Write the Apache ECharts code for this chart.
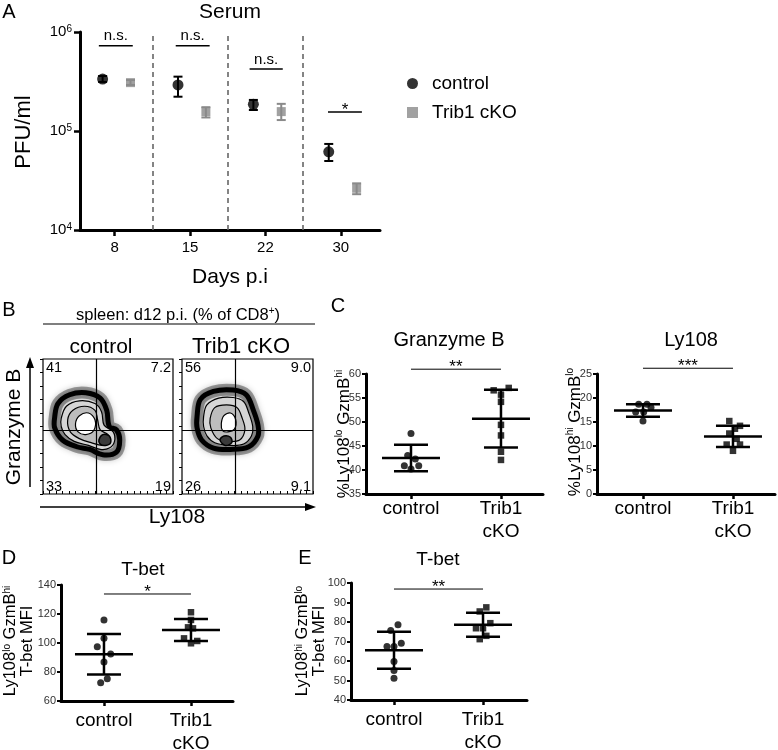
<!DOCTYPE html>
<html><head><meta charset="utf-8">
<script src="https://cdn.jsdelivr.net/npm/echarts@6/dist/echarts.min.js"></script>
<style>html,body{margin:0;padding:0;background:#fff}#c{width:778px;height:750px}</style>
</head><body><div id="c"></div>
<script>
// ---------- Panel A: Serum PFU/ml ----------
const daysA = ['8', '15', '22', '30'];
const ctrlA = [335000, 292000, 186000, 61600];
const ctrlAlo = [313000, 222000, 163000, 49800];
const ctrlAhi = [359000, 354000, 206000, 74000];
const ckoA = [308000, 157000, 157000, 26400];
const ckoAlo = [292000, 137000, 129000, 23000];
const ckoAhi = [327000, 174000, 188000, 29600];
const sigAText = ['n.s.', 'n.s.', 'n.s.', '*'];
const sigAy = [728000, 728000, 423000, 156000];
const sigAx1 = [-0.21, 0.81, 1.79, 2.83];
const sigAx2 = [0.24, 1.26, 2.23, 3.28];
const sepA = [0.5, 1.5, 2.5];
const offCtrlA = -0.16, offCkoA = 0.21;

// ---------- Panel B: flow plots ----------
const quadCtrl = ['41', '7.2', '33', '19'];
const quadCko = ['56', '9.0', '26', '9.1'];
const gateCtrl = [0.41, 0.474];
const gateCko = [0.405, 0.474];
const ringsCtrl = [
  [[0.09,0.57],[0.115,0.67],[0.205,0.735],[0.33,0.75],[0.44,0.71],[0.49,0.62],[0.51,0.50],[0.565,0.475],[0.59,0.40],[0.565,0.31],[0.46,0.29],[0.36,0.33],[0.26,0.35],[0.15,0.40],[0.09,0.49]],
  [[0.14,0.56],[0.18,0.65],[0.28,0.69],[0.40,0.67],[0.45,0.61],[0.47,0.51],[0.54,0.46],[0.55,0.39],[0.51,0.34],[0.44,0.33],[0.35,0.36],[0.24,0.39],[0.17,0.44],[0.14,0.50]],
  [[0.19,0.55],[0.23,0.62],[0.32,0.65],[0.40,0.62],[0.42,0.55],[0.44,0.475],[0.50,0.44],[0.51,0.39],[0.46,0.36],[0.37,0.38],[0.28,0.41],[0.21,0.46]],
  [[0.25,0.52],[0.28,0.58],[0.35,0.60],[0.40,0.55],[0.39,0.47],[0.33,0.44],[0.27,0.46]],
  [[0.43,0.40],[0.46,0.44],[0.51,0.43],[0.52,0.38],[0.48,0.36],[0.44,0.37]]
];
const ringsCko = [
  [[0.115,0.575],[0.14,0.70],[0.24,0.76],[0.39,0.77],[0.49,0.735],[0.545,0.62],[0.58,0.51],[0.58,0.43],[0.51,0.35],[0.37,0.33],[0.24,0.34],[0.15,0.40],[0.115,0.49]],
  [[0.165,0.575],[0.19,0.66],[0.28,0.71],[0.39,0.715],[0.47,0.685],[0.51,0.60],[0.54,0.50],[0.53,0.43],[0.47,0.37],[0.37,0.36],[0.25,0.38],[0.19,0.43],[0.165,0.50]],
  [[0.215,0.56],[0.25,0.64],[0.34,0.66],[0.42,0.64],[0.46,0.56],[0.48,0.475],[0.44,0.40],[0.35,0.39],[0.27,0.41],[0.22,0.49]],
  [[0.30,0.52],[0.32,0.58],[0.37,0.60],[0.41,0.55],[0.40,0.48],[0.35,0.46],[0.31,0.47]],
  [[0.29,0.40],[0.32,0.43],[0.37,0.42],[0.38,0.38],[0.33,0.36]]
];

// ---------- Panel C: Granzyme B / Ly108 ----------
const groupsCDE = ['control', 'Trib1\ncKO'];
const gzmCtrl = [47.6, 43.0, 42.3, 40.9, 40.9, 40.2];
const gzmCtrlJit = [0, -0.037, 0.048, -0.074, 0.086, 0];
const gzmCko = [56.6, 57.1, 55.7, 54.2, 49.4, 47.2, 43.8, 42.1];
const gzmCkoJit = [-0.081, 0.086, 0, 0, 0, 0, 0, 0];
const gzmMean = [42.5, 50.7];
const gzmSd = [2.75, 6.0];
const gzmSig = 61.0;

const lyCtrl = [18.7, 18.7, 18.0, 17.1, 17.1, 15.2];
const lyCtrlJit = [-0.048, 0.044, 0.089, -0.081, 0.008, 0];
const lyCko = [15.2, 14.2, 13.6, 12.6, 11.5, 10.3, 10.3, 9.0];
const lyCkoJit = [-0.041, 0.078, 0.022, -0.041, 0.041, -0.07, 0.078, 0];
const lyMean = [17.4, 12.0];
const lySd = [1.32, 2.2];
const lySig = 26.2;

// ---------- Panel D: T-bet (Ly108lo GzmBhi) ----------
const tbDCtrl = [115.9, 103.2, 97.5, 92.4, 86.9, 75.4, 72.6];
const tbDCtrlJit = [0, 0, -0.077, 0.077, 0, 0.038, -0.038];
const tbDCko = [121.2, 115.9, 110.8, 110.1, 103.2, 99.8, 101.4];
const tbDCkoJit = [0, 0, -0.034, 0.023, -0.08, 0, 0.072];
const tbDMean = [92.2, 109.0];
const tbDSd = [14.0, 7.6];
const tbDSig = 133.8;

// ---------- Panel E: T-bet (Ly108hi GzmBlo) ----------
const tbECtrl = [78.6, 75.6, 67.4, 67.4, 69.1, 59.7, 55.1, 51.1];
const tbECtrlJit = [0.045, -0.037, -0.079, 0, 0.082, 0, 0, 0];
const tbECko = [87.5, 85.4, 79.4, 76.8, 76.8, 72.9, 71.2];
const tbECkoJit = [0.037, -0.037, 0.082, -0.079, 0, 0.037, -0.037];
const tbEMean = [65.5, 78.6];
const tbESd = [9.5, 6.1];
const tbESig = 96.9;

const FF = '"Liberation Sans", Arial, Helvetica, sans-serif';
const GRAY = '#8a8a8a';

function errRender(color) {
  return function (params, api) {
    const x = api.value(0), lo = api.value(1), hi = api.value(2);
    const a = api.coord([x, hi]), b = api.coord([x, lo]);
    const st = { stroke: color, lineWidth: 2 };
    return { type: 'group', children: [
      { type: 'line', shape: { x1: a[0], y1: a[1], x2: b[0], y2: b[1] }, style: st },
      { type: 'line', shape: { x1: a[0] - 4.5, y1: a[1], x2: a[0] + 4.5, y2: a[1] }, style: st },
      { type: 'line', shape: { x1: b[0] - 4.5, y1: b[1], x2: b[0] + 4.5, y2: b[1] }, style: st }
    ]};
  };
}
function meanSdRender(params, api) {
  const x = api.value(0), m = api.value(1), s = api.value(2);
  const pm = api.coord([x, m]), ph = api.coord([x, m + s]), pl = api.coord([x, m - s]);
  const st = { stroke: '#000', lineWidth: 2.5 };
  return { type: 'group', children: [
    { type: 'line', shape: { x1: ph[0], y1: ph[1], x2: pl[0], y2: pl[1] }, style: st },
    { type: 'line', shape: { x1: pm[0] - 29, y1: pm[1], x2: pm[0] + 29, y2: pm[1] }, style: st },
    { type: 'line', shape: { x1: ph[0] - 17, y1: ph[1], x2: ph[0] + 17, y2: ph[1] }, style: st },
    { type: 'line', shape: { x1: pl[0] - 17, y1: pl[1], x2: pl[0] + 17, y2: pl[1] }, style: st }
  ]};
}
function sigSeries(gi, texts, x1s, x2s, ys, fs, lw) {
  return {
    type: 'custom', xAxisIndex: gi, yAxisIndex: gi, clip: false, silent: true, z: 5,
    data: ys.map((y, i) => [x1s[i], y, x2s[i]]), encode: { x: [0, 2], y: 1 },
    renderItem: function (params, api) {
      const i = params.dataIndex;
      const p1 = api.coord([api.value(0), api.value(1)]), p2 = api.coord([api.value(2), api.value(1)]);
      const star = texts[i].indexOf('*') >= 0;
      return { type: 'group', children: [
        { type: 'line', shape: { x1: p1[0], y1: p1[1], x2: p2[0], y2: p2[1] }, style: { stroke: '#000', lineWidth: lw } },
        { type: 'text', x: (p1[0] + p2[0]) / 2, y: p1[1] + (star ? 7 : -2),
          style: { text: texts[i], fill: '#000', fontSize: star ? fs + 2 : fs, fontFamily: FF, align: 'center', verticalAlign: 'bottom' } }
      ]};
    }
  };
}
function ringSeries(gi, rings) {
  return {
    type: 'custom', xAxisIndex: gi, yAxisIndex: gi, clip: true, silent: true, z: 2,
    data: rings.map(() => [0.5, 0.5]), encode: { x: 0, y: 1 },
    renderItem: function (params, api) {
      const i = params.dataIndex;
      const pts = rings[i].map(p => api.coord(p));
      if (i === 0) {
        return { type: 'group', children: [
          { type: 'polygon', shape: { points: pts, smooth: 0.35 }, style: { fill: '#ececec', stroke: 'rgba(0,0,0,0.35)', lineWidth: 12, shadowBlur: 6, shadowColor: 'rgba(0,0,0,0.5)' } },
          { type: 'polygon', shape: { points: pts, smooth: 0.35 }, style: { fill: 'none', stroke: '#000', lineWidth: 5 } }
        ]};
      }
      const fills = [null, '#d6d6d6', '#bdbdbd', '#ffffff', '#3a3a3a'];
      return { type: 'polygon', shape: { points: pts, smooth: 0.35 },
        style: { fill: fills[i], stroke: '#000', lineWidth: i === 4 ? 1.5 : 1.2 } };
    }
  };
}
function quadSeries(gi, labels) {
  return {
    type: 'custom', xAxisIndex: gi, yAxisIndex: gi, clip: false, silent: true, z: 6,
    data: labels.map(() => [0.5, 0.5]), encode: { x: 0, y: 1 },
    renderItem: function (params, api) {
      const i = params.dataIndex;
      const corners = [[0, 1], [1, 1], [0, 0], [1, 0]];
      const p = api.coord(corners[i]);
      const right = i % 2 === 1, bottom = i >= 2;
      return { type: 'text', x: p[0] + (right ? -2 : 3), y: p[1] + (bottom ? 0 : 1),
        style: { text: labels[i], fill: '#000', fontSize: 14.5, fontFamily: FF,
          align: right ? 'right' : 'left', verticalAlign: bottom ? 'bottom' : 'top' } };
    }
  };
}
function gateSeries(gi, gate) {
  return {
    type: 'line', xAxisIndex: gi, yAxisIndex: gi, data: [], silent: true,
    markLine: { silent: true, symbol: 'none', animation: false, label: { show: false },
      lineStyle: { color: '#000', width: 1.2, type: 'solid' },
      data: [{ xAxis: gate[0] }, { yAxis: gate[1] }] }
  };
}
function dotSeries(gi, name, vals, jit, center, symbol, size) {
  return { type: 'scatter', name: name, xAxisIndex: gi, yAxisIndex: gi, symbol: symbol, symbolSize: size,
    itemStyle: { color: '#000' }, z: 4, clip: false,
    data: vals.map((v, i) => [center + jit[i], v]) };
}
function meanSeries(gi, means, sds) {
  return { type: 'custom', xAxisIndex: gi, yAxisIndex: gi, clip: false, silent: true, z: 3,
    data: means.map((m, i) => [i + 1, m, sds[i]]), encode: { x: 0, y: 1 }, renderItem: meanSdRender };
}
function catXAxis(gi, min, max, margin) {
  return { gridIndex: gi, type: 'value', min: min, max: max,
    axisLine: { show: true, onZero: false, lineStyle: { color: '#000', width: 3 } },
    axisTick: { show: true, customValues: [1, 2], length: 5, lineStyle: { color: '#000', width: 2.5 } },
    axisLabel: { customValues: [1, 2], formatter: v => groupsCDE[Math.round(v) - 1], fontSize: 19,
      lineHeight: 23, color: '#000', margin: margin, fontFamily: FF },
    splitLine: { show: false } };
}
function numYAxis(gi, min, max, interval) {
  return { gridIndex: gi, type: 'value', min: min, max: max, interval: interval,
    axisLine: { show: true, onZero: false, lineStyle: { color: '#000', width: 3 } },
    axisTick: { show: true, length: 4, lineStyle: { color: '#000', width: 2 } },
    axisLabel: { fontSize: 11, color: '#333', margin: 5, fontFamily: FF },
    splitLine: { show: false } };
}
function flowXAxis(gi) {
  return { gridIndex: gi, type: 'value', min: 0, max: 1, interval: 0.05,
    axisLine: { show: false, onZero: false }, axisLabel: { show: false }, splitLine: { show: false },
    axisTick: { show: true, inside: true, length: 3, lineStyle: { color: '#000', width: 1 } } };
}
function flowYAxis(gi) {
  return { gridIndex: gi, type: 'value', min: 0, max: 1, interval: 0.1,
    axisLine: { show: false, onZero: false }, axisLabel: { show: false }, splitLine: { show: false },
    axisTick: { show: true, inside: false, length: 3, lineStyle: { color: '#000', width: 1 } } };
}
const gridBase = { containLabel: false, outerBoundsMode: 'none' };

const supRich = { s: { fontSize: 10, fontFamily: FF, verticalAlign: 'top', lineHeight: 12 } };
function txt(x, y, text, size, extra) {
  return Object.assign({ type: 'text', x: x, y: y, silent: true,
    style: { text: text, fill: '#000', fontSize: size, fontFamily: FF, align: 'center', verticalAlign: 'middle' } }, extra || {});
}
function vtxt(x, y, text, size, lh) {
  return { type: 'text', x: x, y: y, rotation: Math.PI / 2, silent: true,
    style: { text: text, fill: '#000', fontSize: size, fontFamily: FF, align: 'center', verticalAlign: 'middle',
      lineHeight: lh || size * 1.2, rich: { s: { fontSize: 10, fontFamily: FF, verticalAlign: 'top', lineHeight: 12 },
        n: { fontSize: size, fontFamily: FF } } } };
}

const option = {
  animation: false,
  backgroundColor: '#fff',
  textStyle: { fontFamily: FF },
  legend: { data: [{ name: 'control', icon: 'circle' }, { name: 'Trib1 cKO', icon: 'rect' }],
    orient: 'vertical', left: 402, top: 69, itemWidth: 11, itemHeight: 11,
    itemGap: 10, selectedMode: false, textStyle: { fontSize: 19, color: '#000', fontFamily: FF, padding: [0, 0, 0, 9] } },
  grid: [
    Object.assign({ left: 80, top: 32, width: 300, height: 198 }, gridBase),
    Object.assign({ left: 43, top: 359, width: 130, height: 135, show: true, borderColor: '#000', borderWidth: 1.2, backgroundColor: 'transparent' }, gridBase),
    Object.assign({ left: 182, top: 359, width: 131, height: 135, show: true, borderColor: '#000', borderWidth: 1.2, backgroundColor: 'transparent' }, gridBase),
    Object.assign({ left: 366, top: 374, width: 177, height: 120 }, gridBase),
    Object.assign({ left: 597, top: 374, width: 178, height: 120 }, gridBase),
    Object.assign({ left: 61, top: 585, width: 172, height: 116 }, gridBase),
    Object.assign({ left: 351, top: 583, width: 176, height: 117 }, gridBase)
  ],
  xAxis: [
    { gridIndex: 0, type: 'value', min: -0.46, max: 3.52,
      axisLine: { show: true, onZero: false, lineStyle: { color: '#000', width: 3 } },
      axisTick: { show: true, customValues: [0, 1, 2, 3], length: 6, lineStyle: { color: '#000', width: 2.5 } },
      axisLabel: { customValues: [0, 1, 2, 3], formatter: v => daysA[Math.round(v)], fontSize: 15, color: '#000', margin: 10, fontFamily: FF },
      splitLine: { show: false } },
    flowXAxis(1), flowXAxis(2),
    catXAxis(3, 0.5, 2.467, 3), catXAxis(4, 0.489, 2.467, 3),
    catXAxis(5, 0.506, 2.483, 8), catXAxis(6, 0.517, 2.494, 8)
  ],
  yAxis: [
    { gridIndex: 0, type: 'log', logBase: 10, min: 10000, max: 1000000,
      axisLine: { show: true, onZero: false, lineStyle: { color: '#000', width: 3 } },
      axisTick: { show: true, length: 6, lineStyle: { color: '#000', width: 2.5 } },
      minorTick: { show: false },
      axisLabel: { margin: 8, formatter: v => '{b|10}{s|' + Math.round(Math.log10(v)) + '}',
        rich: { b: { fontSize: 15, color: '#000', fontFamily: FF }, s: { fontSize: 10, color: '#000', fontFamily: FF, verticalAlign: 'top', lineHeight: 10 } } },
      splitLine: { show: false } },
    flowYAxis(1), flowYAxis(2),
    numYAxis(3, 35, 60, 5), numYAxis(4, 0, 25, 5), numYAxis(5, 60, 140, 20), numYAxis(6, 40, 100, 10)
  ],
  series: [
    // Panel A
    { type: 'custom', name: 'ctrlErr', xAxisIndex: 0, yAxisIndex: 0, silent: true, z: 3,
      data: ctrlA.map((v, i) => [i + offCtrlA, ctrlAlo[i], ctrlAhi[i]]), encode: { x: 0, y: [1, 2] }, renderItem: errRender('#000') },
    { type: 'scatter', name: 'control', xAxisIndex: 0, yAxisIndex: 0, symbol: 'circle', symbolSize: 11,
      itemStyle: { color: '#000' }, z: 4, data: ctrlA.map((v, i) => [i + offCtrlA, v]),
      markLine: { silent: true, symbol: 'none', animation: false, label: { show: false },
        lineStyle: { type: [5, 4], color: '#666', width: 1.6 }, data: sepA.map(x => ({ xAxis: x })) } },
    { type: 'custom', name: 'ckoErr', xAxisIndex: 0, yAxisIndex: 0, silent: true, z: 3,
      data: ckoA.map((v, i) => [i + offCkoA, ckoAlo[i], ckoAhi[i]]), encode: { x: 0, y: [1, 2] }, renderItem: errRender(GRAY) },
    { type: 'scatter', name: 'Trib1 cKO', xAxisIndex: 0, yAxisIndex: 0, symbol: 'rect', symbolSize: 9,
      itemStyle: { color: GRAY }, z: 4, data: ckoA.map((v, i) => [i + offCkoA, v]) },
    sigSeries(0, sigAText, sigAx1, sigAx2, sigAy, 15, 1.5),
    // Panel B
    ringSeries(1, ringsCtrl), gateSeries(1, gateCtrl), quadSeries(1, quadCtrl),
    ringSeries(2, ringsCko), gateSeries(2, gateCko), quadSeries(2, quadCko),
    // Panel C
    dotSeries(3, 'gzm ctrl', gzmCtrl, gzmCtrlJit, 1, 'circle', 7),
    dotSeries(3, 'gzm cko', gzmCko, gzmCkoJit, 2, 'rect', 6.5),
    meanSeries(3, gzmMean, gzmSd),
    sigSeries(3, ['**'], [1], [2], [gzmSig], 15, 1),
    dotSeries(4, 'ly ctrl', lyCtrl, lyCtrlJit, 1, 'circle', 7),
    dotSeries(4, 'ly cko', lyCko, lyCkoJit, 2, 'rect', 6.5),
    meanSeries(4, lyMean, lySd),
    sigSeries(4, ['***'], [1], [2], [lySig], 15, 1),
    // Panel D
    dotSeries(5, 'tbD ctrl', tbDCtrl, tbDCtrlJit, 1, 'circle', 7),
    dotSeries(5, 'tbD cko', tbDCko, tbDCkoJit, 2, 'rect', 6.5),
    meanSeries(5, tbDMean, tbDSd),
    sigSeries(5, ['*'], [1], [2], [tbDSig], 15, 1),
    // Panel E
    dotSeries(6, 'tbE ctrl', tbECtrl, tbECtrlJit, 1, 'circle', 7),
    dotSeries(6, 'tbE cko', tbECko, tbECkoJit, 2, 'rect', 6.5),
    meanSeries(6, tbEMean, tbESd),
    sigSeries(6, ['**'], [1], [2], [tbESig], 15, 1)
  ],
  graphic: [
    txt(9, 12, 'A', 20), txt(230, 12, 'Serum', 21), vtxt(24, 132, 'PFU/ml', 22), txt(230, 277, 'Days p.i', 21),
    txt(9, 310, 'B', 20),
    { type: 'text', x: 178, y: 315, silent: true, style: { text: 'spleen: d12 p.i. (% of CD8{s|+})', fill: '#000', fontSize: 16.5,
      fontFamily: FF, align: 'center', verticalAlign: 'middle', rich: supRich } },
    { type: 'line', silent: true, shape: { x1: 43, y1: 324, x2: 315, y2: 324 }, style: { stroke: '#000', lineWidth: 1.2 } },
    txt(101, 347, 'control', 21), txt(241, 347, 'Trib1 cKO', 22),
    vtxt(14, 427, 'Granzyme B', 21),
    { type: 'line', silent: true, shape: { x1: 30, y1: 487, x2: 30, y2: 366 }, style: { stroke: '#000', lineWidth: 1.5 } },
    { type: 'polygon', silent: true, shape: { points: [[30, 357], [26, 368], [34, 368]] }, style: { fill: '#000' } },
    { type: 'line', silent: true, shape: { x1: 40, y1: 507, x2: 306, y2: 507 }, style: { stroke: '#000', lineWidth: 1.5 } },
    { type: 'polygon', silent: true, shape: { points: [[316, 507], [305, 503], [305, 511]] }, style: { fill: '#000' } },
    txt(177, 517, 'Ly108', 21),
    txt(338, 306, 'C', 20), txt(449, 340, 'Granzyme B', 20), txt(691, 340, 'Ly108', 20),
    vtxt(344, 434, '%Ly108{s|lo} GzmB{s|hi}', 17),
    vtxt(575, 432, '%Ly108{s|hi} GzmB{s|lo}', 17),
    txt(9, 558, 'D', 20), txt(143, 570, 'T-bet', 19),
    vtxt(19, 641, 'Ly108{s|lo} GzmB{s|hi}\nT-bet MFI', 16.5, 17),
    txt(305, 558, 'E', 20), txt(438, 560, 'T-bet', 19),
    vtxt(311, 641, 'Ly108{s|hi} GzmB{s|lo}\nT-bet MFI', 16.5, 17)
  ]
};
const chart = echarts.init(document.getElementById('c'));
chart.setOption(option);
</script>
</body></html>
